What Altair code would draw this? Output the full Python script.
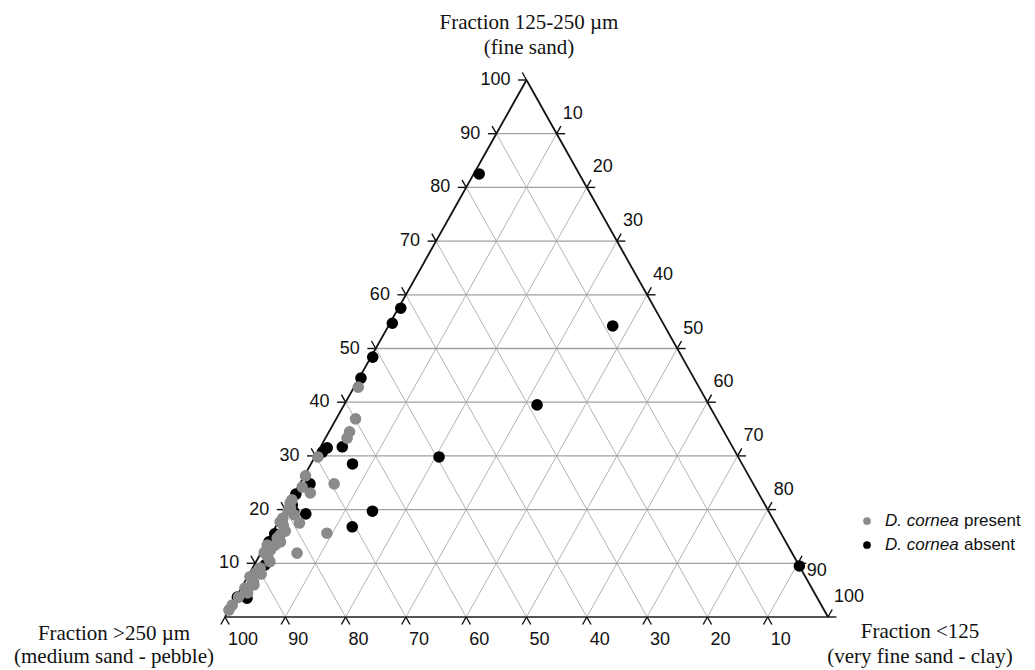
import altair as alt
import pandas as pd

# ---------------- data (percent of each sediment fraction) ----------------
# fine sand (125-250 um) and very fine sand - clay (<125 um); coarse (>250 um) is the remainder
ABSENT_FINE = [82.5, 54.2, 39.5, 29.8, 9.5, 57.5, 54.7, 48.4, 44.5, 31.7, 31.5, 30.7, 28.5,
               19.7, 16.8, 24.8, 22.9, 19.2, 19.6, 15.5, 9.7, 6.5, 3.5, 14.0, 3.7, 20.9]
ABSENT_VFINE = [0.9, 37.2, 32.0, 20.6, 90.5, 0.4, 0.4, 0.3, 0.3, 3.6, 1.2, 0.8, 6.9,
                14.6, 12.7, 1.7, 0.3, 3.8, 1.6, 0.5, 1.8, 1.4, 1.9, 0.3, 0.2, 0.7]
PRESENT_FINE = [42.8, 36.9, 33.3, 34.5, 29.8, 24.8, 26.3, 24.2, 23.1, 21.2, 17.5, 15.6, 11.9,
                18.4, 17.7, 14.7, 13.4, 17.1, 13.4, 11.2, 9.1, 6.9, 5.4, 3.7, 2.2, 1.3,
                12.5, 8.2, 19.9, 21.8, 15.3, 20.3,
                16.0, 14.0, 10.3, 8.0, 6.0, 4.5, 19.0, 12.0, 7.5]
PRESENT_VFINE = [0.7, 3.2, 3.6, 3.4, 0.5, 5.7, 0.2, 0.7, 2.6, 0.2, 3.6, 9.1, 6.0,
                 0.4, 0.3, 1.3, 0.3, 1.1, 1.6, 1.5, 1.3, 1.1, 0.6, 0.4, 0.1, 0.0,
                 1.3, 1.0, 0.5, 0.2, 1.5, 0.7,
                 2.0, 2.2, 2.3, 2.0, 1.8, 1.5, 2.0, 0.5, 0.4]

TICKS = [10, 20, 30, 40, 50, 60, 70, 80, 90, 100]
GRID = [10, 20, 30, 40, 50, 60, 70, 80, 90]

TITLE_TOP = ["Fraction 125-250 µm", "(fine sand)"]
TITLE_LEFT = ["Fraction >250 µm", "(medium sand - pebble)"]
TITLE_RIGHT = ["Fraction <125", "(very fine sand - clay)"]
LEGEND_ITALIC = "D. cornea"
LEGEND_WORDS = ["present", "absent"]

# ---------------- layout ----------------
W, H = 1019, 662
LEFT_PX, RIGHT_PX, TOP_PX, BASE_PX = 217.0, 820.0, 72.0, 609.0
sx = (RIGHT_PX - LEFT_PX) / 100.0
sy = (BASE_PX - TOP_PX) / 100.0
XMIN = -LEFT_PX / sx
XMAX = XMIN + W / sx
YMAX = 100 + TOP_PX / sy
YMIN = YMAX - H / sy
XS = alt.Scale(domain=[XMIN, XMAX], nice=False, zero=False)
YS = alt.Scale(domain=[YMIN, YMAX], nice=False, zero=False)

GREY = "#8a8a8a"
SANS = "Liberation Sans"
SERIF = "Liberation Serif"


def tern(fine, vfine):
    """ternary -> cartesian (x along base, y = height)"""
    return vfine + fine / 2.0, fine


def seg(f1, v1, f2, v2):
    x1, y1 = tern(f1, v1)
    x2, y2 = tern(f2, v2)
    return {"x": x1, "y": y1, "x2": x2, "y2": y2}


def rule_layer(rows, color, width):
    df = pd.DataFrame(rows)
    return alt.Chart(df).mark_rule(color=color, strokeWidth=width).encode(
        x=alt.X("x:Q", scale=XS, axis=None),
        y=alt.Y("y:Q", scale=YS, axis=None),
        x2="x2:Q", y2="y2:Q")


# grid lines
hgrid = [seg(k, 0, k, 100 - k) for k in GRID]                       # fine = k
dgrid = [seg(100 - k, 0, 0, 100 - k) for k in GRID]                  # coarse = k
dgrid += [seg(0, k, 100 - k, k) for k in GRID]                       # very fine = k

# triangle edges
side_edges = [seg(0, 0, 100, 0), seg(100, 0, 0, 100)]
base_edge = [seg(0, 0, 0, 100)]

# tick marks (extensions of the grid lines beyond the edges)
D = 1.4
ticks = []
for k in TICKS:
    # left axis (fine = k, vfine = 0)
    ticks.append(seg(k, 0, k, -D))
    ticks.append(seg(k, 0, k + D, -D))
    # right axis (vfine = k, coarse = 0)
    ticks.append(seg(100 - k, k, 100 - k, k + D))
    ticks.append(seg(100 - k, k, 100 - k + D, k))
    # bottom axis (coarse = k, fine = 0)
    ticks.append(seg(0, 100 - k, -D, 100 - k))
    ticks.append(seg(0, 100 - k, -D, 100 - k + D))

layers = [
    rule_layer(dgrid, "#b4b4b4", 1),
    rule_layer(hgrid, "#a0a0a0", 1.3),
    rule_layer(base_edge, "#555555", 1.8),
    rule_layer(side_edges, "#111111", 1.8),
    rule_layer(ticks, "#111111", 1.4),
]

# points
rows = []
for f, v in zip(ABSENT_FINE, ABSENT_VFINE):
    x, y = tern(f, v)
    rows.append({"x": x, "y": y, "group": "absent", "coarse": round(100 - f - v, 1)})
for f, v in zip(PRESENT_FINE, PRESENT_VFINE):
    x, y = tern(f, v)
    rows.append({"x": x, "y": y, "group": "present", "coarse": round(100 - f - v, 1)})
pts = pd.DataFrame(rows)
for grp, col in [("absent", "#000000"), ("present", GREY)]:
    layers.append(
        alt.Chart(pts[pts.group == grp]).mark_circle(size=135, opacity=1, color=col).encode(
            x=alt.X("x:Q", scale=XS, axis=None),
            y=alt.Y("y:Q", scale=YS, axis=None)))

# tick labels
def label_layer(rows, **mk):
    df = pd.DataFrame(rows)
    return alt.Chart(df).mark_text(font=SANS, fontSize=18, color="#111111",
                                   baseline="middle", **mk).encode(
        x=alt.X("x:Q", scale=XS, axis=None),
        y=alt.Y("y:Q", scale=YS, axis=None),
        text="t:N")

left_lab = [dict(zip(["x", "y"], tern(k, 0)), t=str(k)) for k in TICKS]
right_lab = [dict(zip(["x", "y"], tern(100 - k, k)), t=str(k)) for k in TICKS if k != 90]
right_lab90 = [dict(zip(["x", "y"], tern(10, 90)), t="90")]
bottom_lab = [dict(zip(["x", "y"], tern(0, 100 - k)), t=str(k)) for k in TICKS]

layers.append(label_layer(left_lab, align="right", dx=-16))
layers.append(label_layer(right_lab, align="left", dx=6, dy=-20))
layers.append(label_layer(right_lab90, align="left", dx=9, dy=8))
layers.append(label_layer(bottom_lab, align="left", dx=3, dy=23))

# titles
def title_mark(text, px, py, align="center"):
    return alt.Chart(pd.DataFrame({"t": [text]})).mark_text(
        font=SERIF, fontSize=21, color="#111111", align=align, baseline="alphabetic").encode(
        x=alt.value(px), y=alt.value(py), text="t:N")

layers += [
    title_mark(TITLE_TOP[0], 521, 21), title_mark(TITLE_TOP[1], 521, 46),
    title_mark(TITLE_LEFT[0], 106, 632), title_mark(TITLE_LEFT[1], 106, 655),
    title_mark(TITLE_RIGHT[0], 912, 630), title_mark(TITLE_RIGHT[1], 912, 655),
]

# legend
leg = pd.DataFrame({"word": LEGEND_WORDS, "it": [LEGEND_ITALIC] * 2,
                    "py": [513, 537], "group": ["present", "absent"]})
layers.append(alt.Chart(leg).mark_circle(size=60, opacity=1).encode(
    x=alt.value(859), y=alt.Y("py:Q", scale=None),
    color=alt.Color("group:N", scale=alt.Scale(domain=["present", "absent"],
                                               range=[GREY, "#000000"]), legend=None)))
layers.append(alt.Chart(leg).mark_text(font=SANS, fontSize=17, fontStyle="italic",
                                       align="left", baseline="middle", color="#111111").encode(
    x=alt.value(877), y=alt.Y("py:Q", scale=None), text="it:N"))
layers.append(alt.Chart(leg).mark_text(font=SANS, fontSize=17, align="left",
                                       baseline="middle", color="#111111").encode(
    x=alt.value(956), y=alt.Y("py:Q", scale=None), text="word:N"))

chart = alt.layer(*layers).properties(
    width=W, height=H, padding=0,
    autosize=alt.AutoSizeParams(type="none"),
).configure_view(stroke=None)

chart.save("out.html", embed_options={"renderer": "svg", "actions": False})
